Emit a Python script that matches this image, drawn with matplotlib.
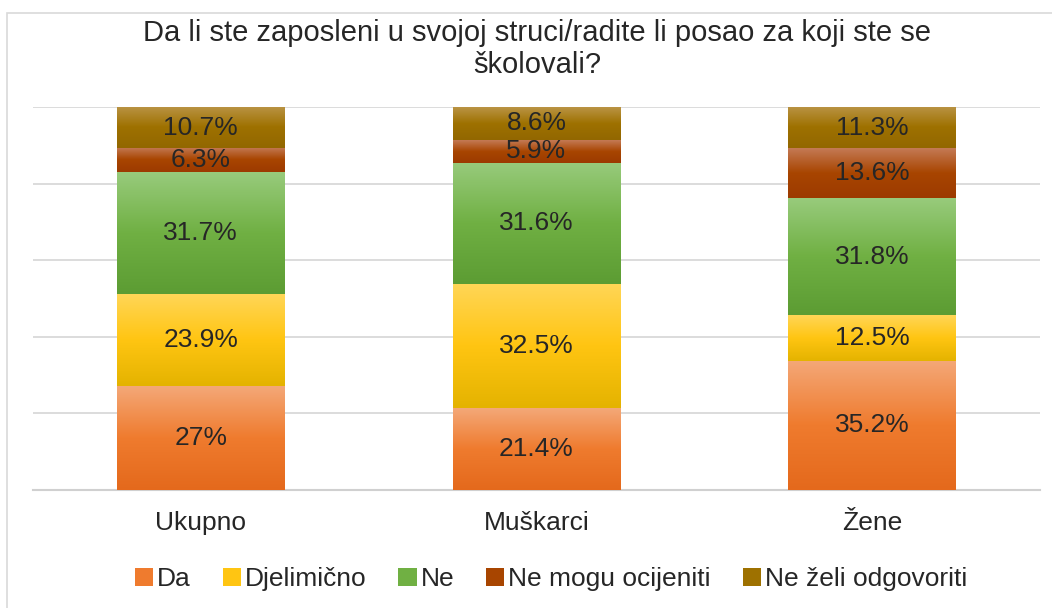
import numpy as np
import matplotlib
matplotlib.use("Agg")
import matplotlib.pyplot as plt
from matplotlib.colors import LinearSegmentedColormap, to_rgb
from matplotlib.patches import Rectangle

plt.rcParams['font.family'] = ['Liberation Sans', 'DejaVu Sans']

title = "Da li ste zaposleni u svojoj struci/radite li posao za koji ste se\nškolovali?"
categories = ["Ukupno", "Muškarci", "Žene"]
series = ["Da", "Djelimično", "Ne", "Ne mogu ocijeniti", "Ne želi odgovoriti"]
da = [27.0, 21.4, 35.2]
djelimicno = [23.9, 32.5, 12.5]
ne = [31.7, 31.6, 31.8]
ne_mogu = [6.3, 5.9, 13.6]
ne_zeli = [10.7, 8.6, 11.3]
values = [da, djelimicno, ne, ne_mogu, ne_zeli]
yticks = [0, 20, 40, 60, 80, 100]

# (top, middle, bottom) gradient colours per series
grad = [
    ("#F4A878", "#EF7B2E", "#E4691C"),
    ("#FFD657", "#FFC512", "#E4B300"),
    ("#98CB7C", "#70B043", "#5C9C33"),
    ("#C47A55", "#A84500", "#9C3A00"),
    ("#BA9445", "#9E7100", "#926700"),
]

fig = plt.figure(figsize=(10.52, 6.08), dpi=100)
fig.patch.set_facecolor("white")
fig.add_artist(Rectangle((7/1052, -0.01), 1.02, 1 - 13/608 + 0.01, transform=fig.transFigure,
                         fill=False, edgecolor="#D9D9D9", lw=1.2))
ax = fig.add_axes([33/1052, 1 - 490/608, (1040-33)/1052, (490-107)/608])

data = np.array(values)
totals = data.sum(axis=0)
norm = data / totals * 100
x = np.arange(len(categories))
bottom = np.zeros(len(categories))
width = 0.5

for i, name in enumerate(series):
    bars = ax.bar(x, norm[i], width, bottom=bottom, color=grad[i][1], label=name,
                  edgecolor="none", zorder=2)
    cmap = LinearSegmentedColormap.from_list("g%d" % i,
                                             [to_rgb(grad[i][0]), to_rgb(grad[i][1]), to_rgb(grad[i][2])])
    gimg = np.linspace(0, 1, 256).reshape(-1, 1)
    for j, b in enumerate(bars):
        x0, y0 = b.get_x(), b.get_y()
        w, h = b.get_width(), b.get_height()
        im = ax.imshow(gimg, cmap=cmap, aspect="auto", extent=(x0, x0 + w, y0, y0 + h),
                       origin="upper", zorder=3, interpolation="bilinear")
        im.set_clip_path(b)
        v = data[i, j]
        lbl = ("%g" % v) + "%"
        ax.text(x0 + w / 2, y0 + h / 2, lbl, ha="center", va="center",
                fontsize=19, color="#262626", zorder=4)
    bottom += norm[i]

ax.set_xlim(-0.5, len(categories) - 0.5)
ax.set_ylim(0, 100)
ax.set_yticks(yticks)
ax.set_yticklabels([])
ax.tick_params(axis="y", length=0)
ax.tick_params(axis="x", length=0, labelsize=19, pad=15, colors="#262626")
ax.set_xticks(x)
ax.set_xticklabels(categories)
ax.grid(axis="y", color="#D9D9D9", lw=1.3, zorder=0)
ax.set_axisbelow(True)
for s in ["top", "right", "left"]:
    ax.spines[s].set_visible(False)
ax.spines["bottom"].set_color("#D0D0D0")
ax.spines["bottom"].set_linewidth(1.5)

fig.text(537/1052, 1 - 49/608, title, ha="center", va="center", fontsize=21,
         color="#262626", linespacing=1.22)

handles, labels = ax.get_legend_handles_labels()
leg = fig.legend(handles, labels, loc="center", bbox_to_anchor=(551/1052, 1 - 579/608),
                 ncol=5, frameon=False, fontsize=19, handlelength=0.7, handleheight=0.7,
                 handletextpad=0.15, columnspacing=1.2, labelcolor="#262626")

fig.savefig("out.png", dpi=100)
